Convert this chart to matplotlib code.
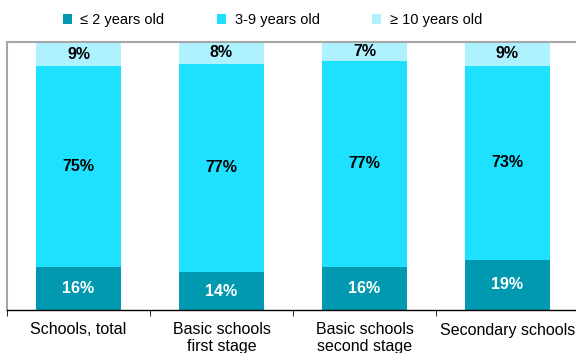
import numpy as np
import matplotlib.pyplot as plt

plt.rcParams['font.family'] = ['Liberation Sans', 'DejaVu Sans']

# Data
categories = ['Schools, total', 'Basic schools\nfirst stage',
              'Basic schools\nsecond stage', 'Secondary schools']
series = ['\u2264 2 years old', '3-9 years old', '\u2265 10 years old']
young = [16, 14, 16, 19]
middle = [75, 77, 77, 73]
old = [9, 8, 7, 9]

colors = ['#0099B0', '#1EE0FF', '#AEF2FF']
text_colors = ['white', 'black', 'black']

vals = np.array([young, middle, old], dtype=float)
shares = vals / vals.sum(axis=0) * 100

fig = plt.figure(figsize=(5.76, 3.53), dpi=100)
ax = fig.add_axes([7 / 576, 1 - 310 / 353, 572 / 576, 268 / 353])

x = np.arange(len(categories))
bottom = np.zeros(len(categories))
for i, name in enumerate(series):
    ax.bar(x, shares[i], bottom=bottom, width=0.59, color=colors[i],
           label=name, linewidth=0)
    for j in range(len(categories)):
        ax.text(x[j], bottom[j] + shares[i][j] / 2, '%d%%' % vals[i][j],
                ha='center', va='center', fontsize=11.5, fontweight='bold',
                color=text_colors[i])
    bottom += shares[i]

ax.set_xlim(-0.5, len(categories) - 0.5)
ax.set_ylim(0, 100)
ax.set_yticks([])
ax.set_xticks(x)
ax.set_xticklabels(categories, fontsize=11.5, linespacing=1.1)
ax.tick_params(axis='x', which='major', length=0, pad=9)
ax.set_xticks(np.arange(len(categories) + 1) - 0.5, minor=True)
ax.tick_params(axis='x', which='minor', length=4, direction='out',
               color='black')

for s in ['top', 'left', 'right']:
    ax.spines[s].set_color('#A6A6A6')
    ax.spines[s].set_linewidth(1.5)
ax.spines['bottom'].set_color('black')
ax.spines['bottom'].set_linewidth(1)

fig.legend(loc='upper center', bbox_to_anchor=(0.473, 1.0), ncol=3,
           frameon=False, fontsize=10.5, handlelength=0.6, handleheight=0.6,
           handletextpad=0.6, columnspacing=3.6)

fig.savefig('out.png', dpi=100)
